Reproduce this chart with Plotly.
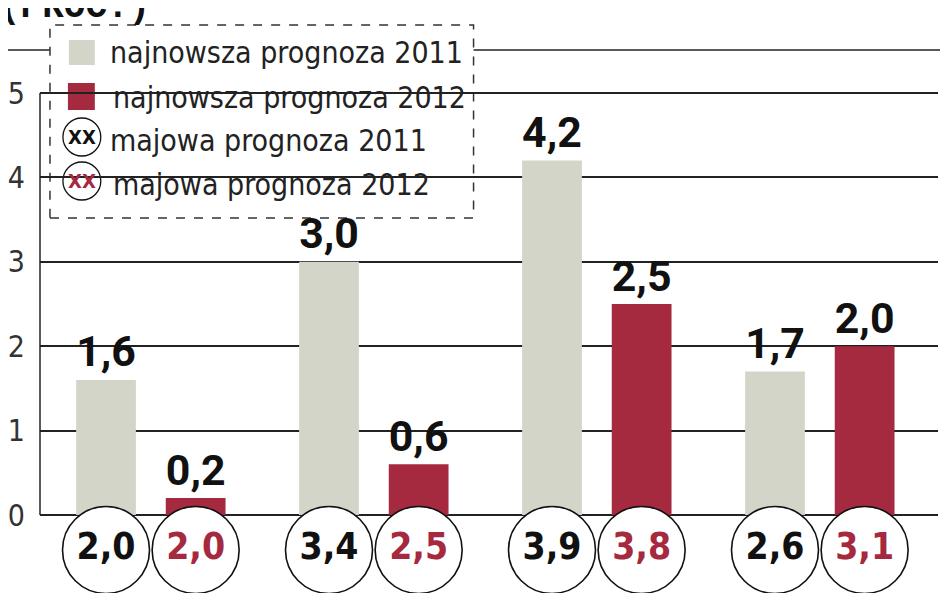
import plotly.graph_objects as go

# data
groups = [0, 1, 2, 3]
latest_2011 = [1.6, 3.0, 4.2, 1.7]
latest_2012 = [0.2, 0.6, 2.5, 2.0]
may_2011 = [2.0, 3.4, 3.9, 2.6]
may_2012 = [2.0, 2.5, 3.8, 3.1]
y_ticks = [0, 1, 2, 3, 4, 5]
legend_labels = ["najnowsza prognoza 2011", "najnowsza prognoza 2012",
                 "majowa prognoza 2011", "majowa prognoza 2012"]

GRAY = "#d4d5c9"
RED = "#a5293f"
OFF = 0.201     # bar offset from group centre
BW = 0.268      # bar width
CIRCLE_ROW = -0.415
NARROW = "Liberation Sans Narrow, DejaVu Sans Condensed, Roboto Condensed, Roboto"

W, H = 948, 593
SHIFT = 8       # page margin of the browser
ML, MR = 37 - SHIFT, W - (938 - SHIFT)
PW = W - ML - MR


def fmt(v):
    return f"{v:.1f}".replace(".", ",")


def px(x):
    # screen pixel x -> paper
    return (x - 37) / PW


def py(y):
    # screen pixel y -> paper
    return (H - (y - SHIFT)) / H


x11 = [g - OFF for g in groups]
x12 = [g + OFF for g in groups]

fig = go.Figure()

for xs, vals, col in [(x11, latest_2011, GRAY), (x12, latest_2012, RED)]:
    fig.add_trace(go.Bar(
        x=xs, y=vals, width=BW, marker=dict(color=col, line=dict(width=0)),
        text=[fmt(v) for v in vals], textposition="outside",
        textfont=dict(family="Roboto", size=45, color="#111", weight="bold"),
        cliponaxis=False,
    ))

for xs, vals, col in [(x11, may_2011, "#111"), (x12, may_2012, RED)]:
    fig.add_trace(go.Scatter(
        x=xs, y=[CIRCLE_ROW] * len(vals), mode="markers+text",
        marker=dict(size=87, color="white", line=dict(color="#111", width=1.6)),
        text=[fmt(v) for v in vals], textposition="middle center",
        textfont=dict(family=NARROW, size=37, color=col, weight="bold"),
        cliponaxis=False,
    ))

shapes = []
# top rule
shapes.append(dict(type="line", xref="paper", yref="paper",
                   x0=px(0), x1=px(W + SHIFT), y0=py(50), y1=py(50),
                   line=dict(color="#222", width=1.5), layer="between"))
# y axis line
shapes.append(dict(type="line", xref="paper", yref="y", x0=0, x1=0, y0=0, y1=5,
                   line=dict(color="#222", width=1.5), layer="between"))
# legend box
shapes.append(dict(type="rect", xref="paper", yref="paper",
                   x0=px(47), x1=px(472), y0=py(218), y1=py(25),
                   fillcolor="white", line=dict(color="#333", width=1.5, dash="dash"),
                   layer="between"))
# legend squares
shapes.append(dict(type="rect", xref="paper", yref="paper",
                   x0=px(66), x1=px(92), y0=py(65), y1=py(40),
                   fillcolor=GRAY, line=dict(width=0), layer="between"))
shapes.append(dict(type="rect", xref="paper", yref="paper",
                   x0=px(65), x1=px(92), y0=py(110), y1=py(83),
                   fillcolor=RED, line=dict(width=0), layer="between"))
# legend circles
for cy in (137, 181):
    shapes.append(dict(type="circle", xref="paper", yref="paper",
                       x0=px(60), x1=px(98), y0=py(cy + 19), y1=py(cy - 19),
                       fillcolor="white", line=dict(color="#111", width=1.3),
                       layer="between"))

annotations = []
label_pos = [(105, 52), (108, 97), (105, 140), (108, 184)]
for lab, (lx, ly) in zip(legend_labels, label_pos):
    annotations.append(dict(xref="paper", yref="paper", x=px(lx), y=py(ly),
                            xanchor="left", yanchor="middle", text=lab, showarrow=False,
                            font=dict(family=NARROW, size=30, color="#222")))
for cy, col in [(137, "#111"), (181, RED)]:
    annotations.append(dict(xref="paper", yref="paper", x=px(79), y=py(cy),
                            xanchor="center", yanchor="middle", text="XX", showarrow=False,
                            font=dict(family=NARROW, size=20, color=col, weight="bold")))
annotations.append(dict(xref="paper", yref="paper", x=px(-6), y=py(30),
                        xanchor="left", yanchor="bottom", text="(PROC.)", showarrow=False,
                        font=dict(family="Liberation Mono", size=36, color="#111", weight="bold")))

fig.update_layout(
    width=W, height=H,
    margin=dict(l=ML, r=MR, t=0, b=0),
    paper_bgcolor="white", plot_bgcolor="white",
    barmode="overlay", showlegend=False,
    shapes=shapes, annotations=annotations,
    xaxis=dict(range=[-0.497, 3.53], showgrid=False, zeroline=False,
               showticklabels=False, ticks=""),
    yaxis=dict(range=[(507 - H) / 84.4, 507 / 84.4], tickvals=y_ticks,
               ticktext=[str(t) for t in y_ticks],
               showgrid=True, gridcolor="#222", gridwidth=1.5, zeroline=False,
               ticks="outside", ticklen=0, tickcolor="#222",
               tickfont=dict(family=NARROW, size=30, color="#333"),
               ticklabelstandoff=8),
)

fig.write_html("out.html")
